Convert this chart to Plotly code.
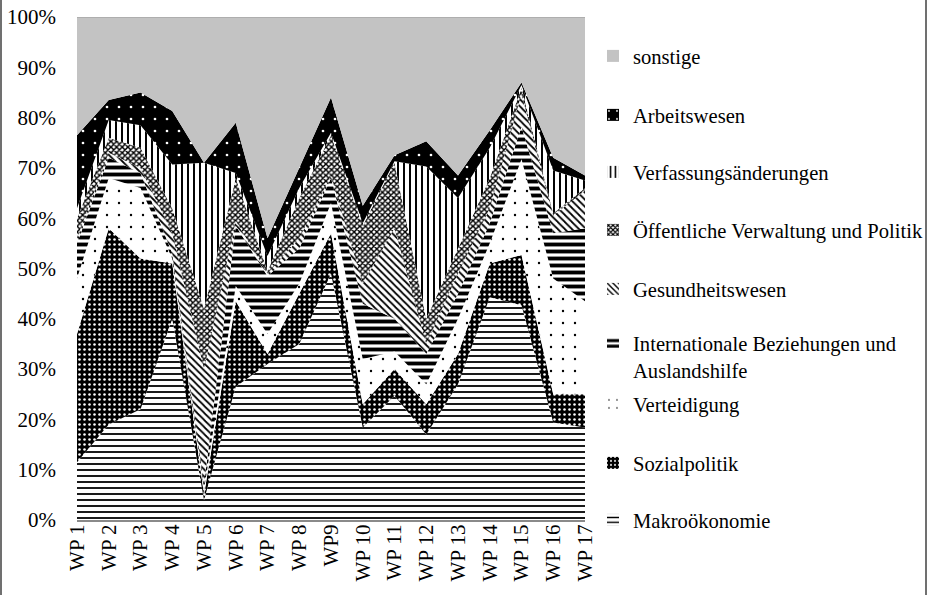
import plotly.graph_objects as go

periods = ["WP 1", "WP 2", "WP 3", "WP 4", "WP 5", "WP 6", "WP 7", "WP 8", "WP9",
           "WP 10", "WP 11", "WP 12", "WP 13", "WP 14", "WP 15", "WP 16", "WP 17"]

makrooekonomie = [11.5, 19, 22, 40, 4, 26.5, 31, 35, 49, 18.4, 24.7, 17, 27, 44.3, 42.7, 19.4, 18.4]
sozialpolitik = [25.5, 39, 30, 11, 1, 17, 2, 10, 8, 4.6, 5.3, 6, 6, 6.7, 10, 5.6, 6.6]
verteidigung = [11, 10, 14, 1, 1, 3, 4, 2, 6, 9, 3.5, 4, 7, 4, 19, 23, 18.5]
internationale = [7, 4, 3, 1, 1, 12, 11.5, 7, 5, 11, 6.5, 6, 5, 4, 6.5, 9, 14.5]
gesundheit = [1, 1, 1, 4, 23, 1, 0.5, 2, 0.5, 4, 18, 2, 4, 3, 6.5, 3.5, 7.5]
verwaltung = [4, 3, 4, 5, 12, 8.5, 0.5, 8, 8, 11.5, 13, 5, 5, 6, 1.3, 0.5, 0.5]
verfassung = [2, 3.5, 4.5, 8.7, 29, 1, 3, 2, 0.5, 0.5, 0.3, 30.3, 10, 6, 0.5, 8.5, 1.5]
arbeitswesen = [14.5, 4, 6.5, 10.6, 0, 10, 3.5, 4, 7, 3.5, 1.2, 5, 4.5, 3.5, 0.5, 2.5, 1]
sonstige = [23.5, 16.5, 15, 18.7, 29, 21, 44, 30, 16, 37.5, 27.5, 24.7, 31.5, 22.5, 13, 28, 31.5]

series_names = ["Makroökonomie", "Sozialpolitik", "Verteidigung",
                "Internationale Beziehungen und<br>Auslandshilfe", "Gesundheitswesen",
                "Öffentliche Verwaltung und Politik", "Verfassungsänderungen",
                "Arbeitswesen", "sonstige"]
series_values = [makrooekonomie, sozialpolitik, verteidigung, internationale, gesundheit,
                 verwaltung, verfassung, arbeitswesen, sonstige]

# styles (pattern shape, fg, bg, size, solidity)
styles = [
    dict(shape="-", fgcolor="black", bgcolor="white", size=6, solidity=0.3),
    dict(shape=".", fgcolor="white", bgcolor="black", size=5, solidity=0.2),
    dict(shape=".", fgcolor="black", bgcolor="white", size=12, solidity=0.03),
    dict(shape="-", fgcolor="black", bgcolor="white", size=7, solidity=0.55),
    dict(shape="\\", fgcolor="black", bgcolor="white", size=5, solidity=0.35),
    dict(shape="x", fgcolor="black", bgcolor="white", size=4, solidity=0.6),
    dict(shape="|", fgcolor="black", bgcolor="white", size=6, solidity=0.33),
    dict(shape=".", fgcolor="white", bgcolor="black", size=12, solidity=0.04),
    None,
]
# legend centre positions in pixels (y)
legend_y_px = [520, 463, 404, 357, 289, 230, 172, 115, 56]

W, H = 931, 595
L, R, T, B = 77, 346, 17, 75
pw, ph = W - L - R, H - T - B

fig = go.Figure()
for i, (name, vals, st) in enumerate(zip(series_names, series_values, styles)):
    kw = dict(x=periods, y=vals, name=name, stackgroup="one", mode="lines",
              showlegend=False, hoverinfo="skip")
    if st is None:
        kw.update(fillcolor="#c3c3c3", line=dict(width=1, color="#9a9a9a"))
    else:
        kw.update(fillpattern=dict(fillmode="replace", **st),
                  fillcolor=st["bgcolor"], line=dict(width=0, color="black"))
    fig.add_trace(go.Scatter(**kw))

# legend entries (square swatches, no data)
for i, (name, st) in enumerate(zip(series_names, styles)):
    lg = "legend" if i == 0 else f"legend{i + 1}"
    if st is None:
        marker = dict(color="#c3c3c3", line=dict(width=0))
    else:
        marker = dict(color=st["bgcolor"], line=dict(width=0),
                      pattern=dict(fillmode="replace", **st))
    fig.add_trace(go.Bar(x=[None], y=[None], name=name, marker=marker,
                         legend=lg, showlegend=True, hoverinfo="skip"))

layout_legends = {}
for i, ypx in enumerate(legend_y_px):
    key = "legend" if i == 0 else f"legend{i + 1}"
    layout_legends[key] = dict(
        x=(593 - L) / pw, y=(T + ph - ypx) / ph, xanchor="left", yanchor="middle",
        bgcolor="rgba(0,0,0,0)", borderwidth=0, itemwidth=30, valign="top",
        font=dict(family="Liberation Serif", size=20.6, color="black"),
        itemclick=False, itemdoubleclick=False,
    )

fig.update_layout(
    width=W, height=H,
    margin=dict(l=L, r=R, t=T, b=B, pad=0, autoexpand=False),
    paper_bgcolor="white", plot_bgcolor="white",
    font=dict(family="Liberation Serif", size=21, color="black"),
    showlegend=True,
    **layout_legends,
    xaxis=dict(type="category", range=[0, len(periods) - 1], tickangle=-90,
               showgrid=False, zeroline=False, showline=True, linecolor="#8a8a8a",
               linewidth=2, ticks="", ticklabelstandoff=-6, automargin=False,
               tickfont=dict(family="Liberation Serif", size=21, color="black")),
    yaxis=dict(range=[0, 100], dtick=10, ticksuffix="%", showgrid=False,
               zeroline=False, showline=False, ticks="", ticklabelstandoff=20,
               automargin=False,
               tickfont=dict(family="Liberation Serif", size=21, color="black")),
    shapes=[
        dict(type="line", xref="paper", yref="paper",
             x0=(1 - L) / pw, x1=(1 - L) / pw, y0=(T + ph - 0) / ph, y1=(T + ph - H) / ph,
             line=dict(color="#707070", width=2)),
        dict(type="line", xref="paper", yref="paper",
             x0=(926 - L) / pw, x1=(926 - L) / pw, y0=(T + ph - 0) / ph, y1=(T + ph - H) / ph,
             line=dict(color="#707070", width=2)),
    ],
)

fig.write_html("out.html", config={"displayModeBar": False},
               post_script="document.body.style.margin='0';")
